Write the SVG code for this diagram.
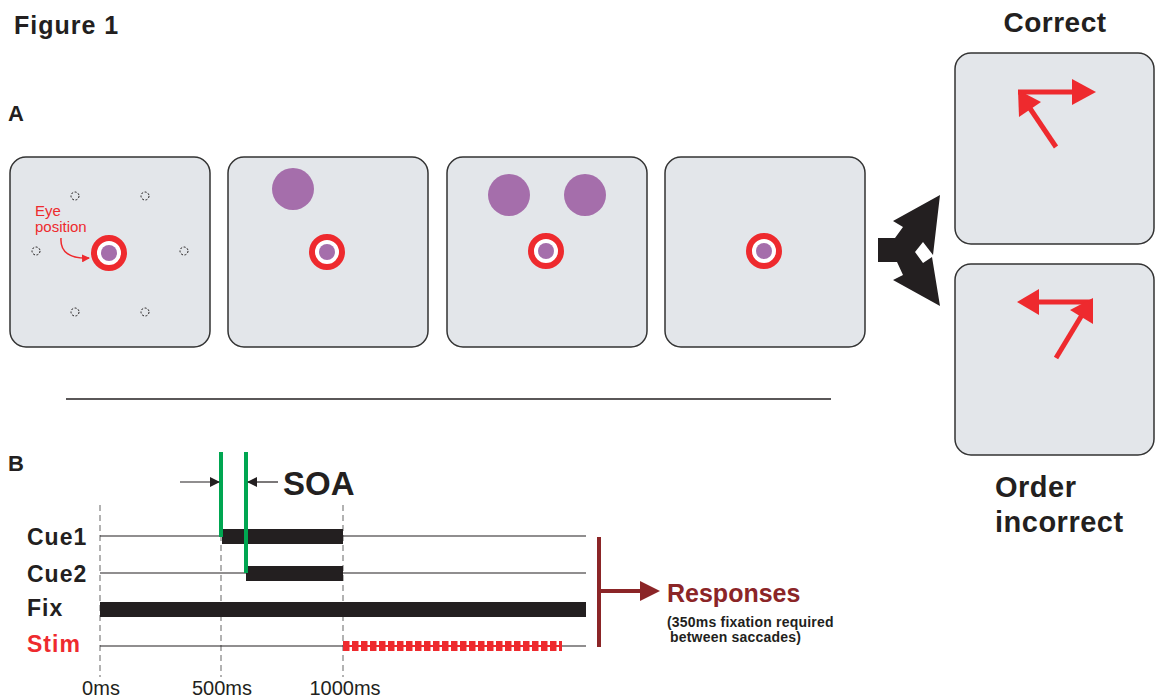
<svg xmlns="http://www.w3.org/2000/svg" width="1157" height="700" viewBox="0 0 1157 700">
<style>
.panel{fill:#e3e6ea;stroke:#333;stroke-width:1.5}
.lbl{font-family:"Liberation Sans",Arial,sans-serif;font-weight:bold;fill:#231f20}
.tick{font-family:"Liberation Sans",Arial,sans-serif;font-size:20px;fill:#231f20}
.dot{fill:none;stroke:#231f20;stroke-width:1;stroke-dasharray:2 1.6}
.purple{fill:#a56eab}
.ring{fill:#fff;stroke:#ee2a2e;stroke-width:6}
.tl{stroke:#231f20;stroke-width:1.2}
.vd{stroke:#999;stroke-width:1.5;stroke-dasharray:6 4}
.red{stroke:#ee2a2e;stroke-width:5;fill:none}
</style>
<defs>
<marker id="ah" markerWidth="10" markerHeight="10" refX="9" refY="5" orient="auto" markerUnits="userSpaceOnUse"><path d="M0,0 L10,5 L0,10 Z" fill="#231f20"/></marker>
<marker id="ahr" markerWidth="8" markerHeight="8" refX="7" refY="4" orient="auto" markerUnits="userSpaceOnUse"><path d="M0,0 L8,4 L0,8 Z" fill="#ee2a2e"/></marker>
</defs>
<rect width="1157" height="700" fill="#fff"/>
<text class="lbl" x="14" y="34" font-size="25" letter-spacing="1">Figure 1</text>
<text class="lbl" x="8" y="121" font-size="22">A</text>
<text class="lbl" x="8" y="471" font-size="22">B</text>
<text class="lbl" x="1055" y="32" font-size="28" letter-spacing="0.5" text-anchor="middle">Correct</text>
<text class="lbl" x="995" y="497" font-size="29" letter-spacing="0.5">Order</text>
<text class="lbl" x="995" y="532" font-size="29" letter-spacing="0.5">incorrect</text>

<g id="panel1">
<rect class="panel" x="10" y="157" width="200" height="190" rx="16"/>
<circle class="dot" cx="75" cy="196" r="4"/>
<circle class="dot" cx="145" cy="196" r="4"/>
<circle class="dot" cx="36" cy="251" r="4"/>
<circle class="dot" cx="184" cy="251" r="4"/>
<circle class="dot" cx="75" cy="312" r="4"/>
<circle class="dot" cx="145" cy="312" r="4"/>
<circle class="ring" cx="109" cy="253" r="15"/>
<circle class="purple" cx="109" cy="253" r="8"/>
<text x="35" y="216" font-family="Liberation Sans,Arial,sans-serif" font-size="15" fill="#ee2a2e">Eye</text>
<text x="35" y="232" font-family="Liberation Sans,Arial,sans-serif" font-size="15" fill="#ee2a2e">position</text>
<path d="M61,238 C60,252 70,259 89,258" fill="none" stroke="#ee2a2e" stroke-width="1.5" marker-end="url(#ahr)"/>
</g>
<g id="panel2">
<rect class="panel" x="228" y="157" width="200" height="190" rx="16"/>
<circle class="purple" cx="293" cy="189" r="21"/>
<circle class="ring" cx="327" cy="252" r="15"/>
<circle class="purple" cx="327" cy="252" r="8"/>
</g>
<g id="panel3">
<rect class="panel" x="447" y="157" width="200" height="190" rx="16"/>
<circle class="purple" cx="509" cy="195" r="21"/>
<circle class="purple" cx="585" cy="195" r="21"/>
<circle class="ring" cx="546" cy="251" r="15"/>
<circle class="purple" cx="546" cy="251" r="8"/>
</g>
<g id="panel4">
<rect class="panel" x="665" y="157" width="200" height="190" rx="16"/>
<circle class="ring" cx="764" cy="251" r="15"/>
<circle class="purple" cx="764" cy="251" r="8"/>
</g>
<g id="branch">
<polygon fill="#231f20" points="878,238 895,238 903,227 893,221 940,195 933,255 923,242 915,252 923,263 932,257 940,306 893,280 903,275 897,262 878,262"/>
</g>
<g id="correct">
<rect class="panel" x="955" y="53" width="199" height="191" rx="16"/>
<line class="red" x1="1018" y1="92" x2="1074" y2="92"/>
<polygon fill="#ee2a2e" points="1072,79 1096,92 1072,105"/>
<line class="red" x1="1056" y1="147" x2="1025" y2="101"/>
<polygon fill="#ee2a2e" points="1018,90 1019,117 1041,102"/>
</g>
<g id="incorrect">
<rect class="panel" x="955" y="264" width="199" height="191" rx="16"/>
<line class="red" x1="1093" y1="302" x2="1037" y2="302"/>
<polygon fill="#ee2a2e" points="1039,289 1017,302 1039,315"/>
<line class="red" x1="1056" y1="358" x2="1085" y2="310"/>
<polygon fill="#ee2a2e" points="1093,298 1093,324 1070,310"/>
</g>
<line x1="66" y1="399" x2="831" y2="399" stroke="#231f20" stroke-width="1.5"/>

<g id="timeline">
<line class="vd" x1="100" y1="505" x2="100" y2="677"/>
<line class="vd" x1="221" y1="505" x2="221" y2="677"/>
<line class="vd" x1="343" y1="505" x2="343" y2="677"/>
<line class="tl" x1="100" y1="536" x2="586" y2="536"/>
<line class="tl" x1="100" y1="573" x2="586" y2="573"/>
<line class="tl" x1="100" y1="646" x2="586" y2="646"/>
<rect x="222" y="529" width="121" height="15" fill="#231f20"/>
<rect x="246" y="566" width="97" height="15" fill="#231f20"/>
<rect x="100" y="602" width="486" height="15" fill="#231f20"/>
<line x1="343" y1="646" x2="562" y2="646" stroke="#ee2a2e" stroke-width="10" stroke-dasharray="6.5 2.5"/>
<line x1="343" y1="646" x2="562" y2="646" stroke="#ee2a2e" stroke-width="2"/>
<line x1="221" y1="452" x2="221" y2="537" stroke="#00a651" stroke-width="4"/>
<line x1="246" y1="452" x2="246" y2="573" stroke="#00a651" stroke-width="4"/>
<text class="lbl" x="27" y="545" font-size="23" letter-spacing="1">Cue1</text>
<text class="lbl" x="27" y="582" font-size="23" letter-spacing="1">Cue2</text>
<text class="lbl" x="27" y="616" font-size="23" letter-spacing="1">Fix</text>
<text class="lbl" x="27" y="652" font-size="23" letter-spacing="1" style="fill:#ee2a2e">Stim</text>
<text class="tick" x="101" y="695" text-anchor="middle">0ms</text>
<text class="tick" x="222" y="695" text-anchor="middle">500ms</text>
<text class="tick" x="345" y="695" text-anchor="middle">1000ms</text>
</g>
<g id="soa">
<line x1="180" y1="482" x2="219" y2="482" stroke="#231f20" stroke-width="1.2" marker-end="url(#ah)"/>
<line x1="278" y1="482" x2="248" y2="482" stroke="#231f20" stroke-width="1.2" marker-end="url(#ah)"/>
<text class="lbl" x="283" y="495" font-size="33">SOA</text>
</g>
<g id="responses">
<line x1="599" y1="537" x2="599" y2="647" stroke="#8b2527" stroke-width="4"/>
<line x1="599" y1="591" x2="642" y2="591" stroke="#8b2527" stroke-width="4"/>
<polygon fill="#8b2527" points="640,581 660,591 640,601"/>
<text x="667" y="602" font-family="Liberation Sans,Arial,sans-serif" font-weight="bold" font-size="25" fill="#8b2527">Responses</text>
<text class="lbl" x="667" y="627" font-size="14" letter-spacing="0.2">(350ms fixation required</text>
<text class="lbl" x="670" y="642" font-size="14" letter-spacing="0.2">between saccades)</text>
</g>
</svg>
